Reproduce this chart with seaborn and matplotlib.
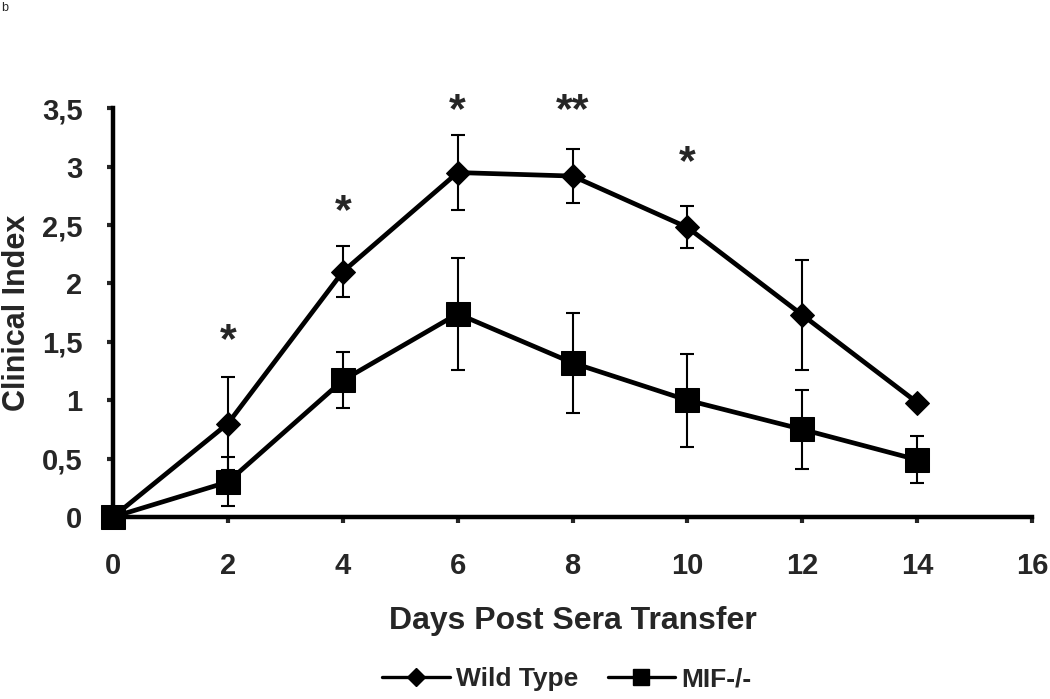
#!/usr/bin/env python3
"""
Clinical index after sera transfer: Wild Type vs MIF-/-
"""

import pandas as pd
import matplotlib.pyplot as plt
import seaborn as sns

days = [0, 2, 4, 6, 8, 10, 12, 14]
wt_mean = [0, 0.8, 2.1, 2.95, 2.92, 2.48, 1.73, 0.98]
wt_err = [0, 0.4, 0.22, 0.32, 0.23, 0.18, 0.47, 0]
mif_mean = [0, 0.3, 1.17, 1.74, 1.32, 1.0, 0.75, 0.49]
mif_err = [0, 0.21, 0.24, 0.48, 0.43, 0.4, 0.34, 0.2]

# significance marks (baseline heights in data units)
star_days = [2, 4, 6, 8, 10]
star_labels = ['*', '*', '*', '**', '*']
star_y = [1.41, 2.52, 3.38, 3.38, 2.94]

yticks = [0, 0.5, 1, 1.5, 2, 2.5, 3, 3.5]
ytick_labels = ['0', '0,5', '1', '1,5', '2', '2,5', '3', '3,5']


def main():
    sns.set_theme(style='white')
    plt.rcParams['font.family'] = ['Liberation Sans', 'DejaVu Sans']

    df = pd.concat([
        pd.DataFrame({'Days': days, 'Index': wt_mean, 'err': wt_err, 'group': 'Wild Type'}),
        pd.DataFrame({'Days': days, 'Index': mif_mean, 'err': mif_err, 'group': 'MIF-/-'}),
    ])

    fig = plt.figure(figsize=(10.5, 6.99), dpi=100)
    ax = fig.add_axes([0.1076, 0.2604, 0.8754, 0.5846])

    # error bars first so the markers sit on top
    for name, group in df.groupby('group', sort=False):
        ax.errorbar(group['Days'], group['Index'], yerr=group['err'], fmt='none',
                    ecolor='black', elinewidth=1.5, capsize=4.7, capthick=1.5, zorder=2)

    sns.lineplot(data=df, x='Days', y='Index', hue='group', style='group',
                 palette=['black', 'black'], markers={'Wild Type': 'D', 'MIF-/-': 's'},
                 dashes=False, linewidth=3.4, markeredgecolor='black',
                 ax=ax, legend=False, zorder=3)
    for ln in ax.get_lines():
        ln.set_clip_on(False)
        if ln.get_marker() == 's':
            ln.set_markersize(17)
        elif ln.get_marker() == 'D':
            ln.set_markersize(12)

    for d, lab, yy in zip(star_days, star_labels, star_y):
        ax.text(d, yy, lab, ha='center', va='baseline', fontsize=31, fontweight='bold')

    ax.set_xlim(0, 16)
    ax.set_ylim(0, 3.5)
    ax.set_xticks(range(0, 17, 2))
    ax.set_yticks(yticks)
    ax.set_yticklabels(ytick_labels)
    ax.tick_params(axis='both', direction='out', length=4, width=3, labelsize=21,
                   left=True, bottom=True)
    ax.tick_params(axis='x', pad=21)
    ax.tick_params(axis='y', pad=18)
    for lab in ax.get_xticklabels() + ax.get_yticklabels():
        lab.set_fontweight('bold')

    sns.despine(ax=ax)
    for side in ['left', 'bottom']:
        ax.spines[side].set_linewidth(3.2)
        ax.spines[side].set_color('black')

    ax.set_xlabel('Days Post Sera Transfer', fontsize=23, fontweight='bold', labelpad=19)
    ax.set_ylabel('Clinical Index', fontsize=22, fontweight='bold', labelpad=7)

    handles = [
        plt.Line2D([], [], color='black', marker='D', markersize=9, linewidth=2.4),
        plt.Line2D([], [], color='black', marker='s', markersize=12, linewidth=2.4),
    ]
    fig.legend(handles, ['Wild Type', 'MIF-/-'], loc='center', ncol=2,
               bbox_to_anchor=(0.54, 0.028), frameon=False, handlelength=2.55,
               columnspacing=1.1, handletextpad=0.25, borderpad=0.1,
               prop={'size': 19, 'weight': 'bold'})

    fig.text(0.001, 0.997, 'b', fontsize=9, va='top', ha='left')

    plt.savefig('out.png', dpi=100)


if __name__ == "__main__":
    main()
